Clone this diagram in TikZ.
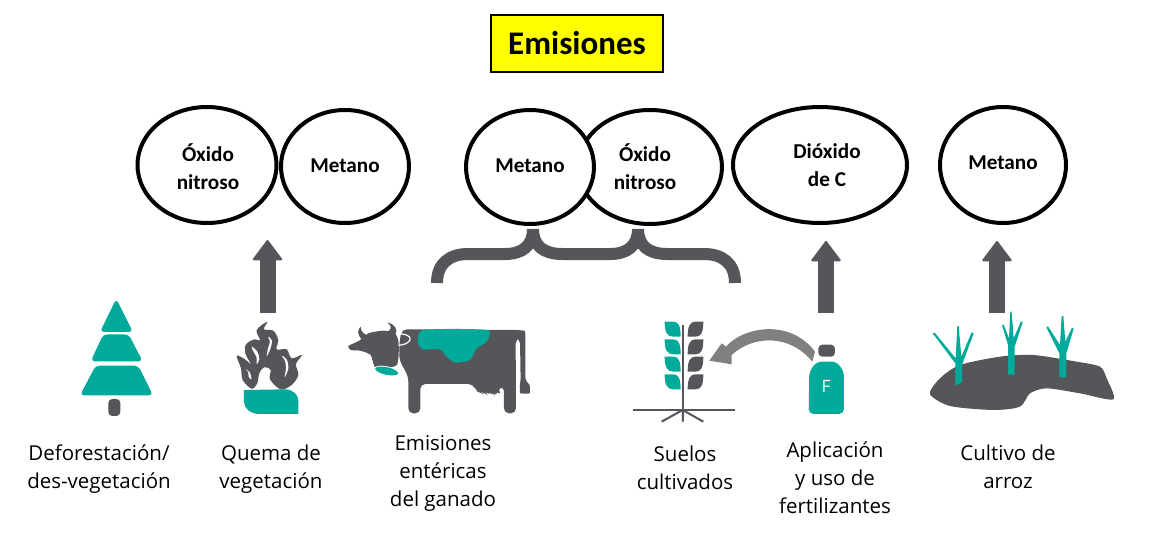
\documentclass[tikz,border=0pt]{standalone}
\usepackage{fontspec}
\setmainfont{Open Sans}
\newfontfamily\boldfont[BoldFont=Carlito Bold]{Carlito}
\usetikzlibrary{arrows.meta}
\usetikzlibrary{shapes.geometric}
\definecolor{teal1}{RGB}{0,170,155}
\definecolor{dark1}{RGB}{85,85,90}
\definecolor{mid1}{RGB}{128,128,128}
\definecolor{yellow1}{RGB}{255,255,0}
\tikzset{
gas/.style={draw=black,fill=white,line width=4pt,ellipse,inner sep=0pt},
gastext/.style={font=\boldfont\bfseries\fontsize{21.2}{28}\selectfont,align=center,inner sep=0pt},
caption/.style={font=\fontsize{20.5}{28}\selectfont,align=center,inner sep=0pt},
uparrow/.style={draw=dark1,line width=16pt,-{Triangle[width=31pt,length=21pt,line width=2pt,round]}},
icon/.style={x=0.3333pt,y=-0.3333pt}
}
\begin{document}
\begin{tikzpicture}[x=1pt,y=-1pt]
\useasboundingbox (0,0) rectangle (1160,533);
\node[draw=black,fill=yellow1,line width=1.2pt,minimum width=172pt,minimum height=57pt,inner sep=0pt,font=\boldfont\bfseries\fontsize{33}{36}\selectfont] (title) at (577,43.5) {Emisiones};

\node[gas,minimum width=139pt,minimum height=116pt] (oxa) at (207,165) {};
\node[gas,minimum width=128pt,minimum height=113pt] (meta) at (345,166.5) {};
\node[gas,minimum width=144pt,minimum height=114pt] (oxb) at (650,167) {};
\node[gas,minimum width=128pt,minimum height=114pt] (metb) at (530,167) {};
\node[gas,minimum width=174pt,minimum height=116pt] (diox) at (820,165) {};
\node[gas,minimum width=126pt,minimum height=116pt] (metc) at (1003,165) {};

\node[gastext] (oxatext) at (208,167) {Óxido\\nitroso};
\node[gastext] (metatext) at (345,166) {Metano};
\node[gastext] (metbtext) at (530,166) {Metano};
\node[gastext] (oxbtext) at (645,167) {Óxido\\nitroso};
\node[gastext] (dioxtext) at (827,165) {Dióxido\\de C};
\node[gastext] (metctext) at (1003,163) {Metano};

\coordinate (arra) at (267.5,313);
\coordinate (arrb) at (267.5,240);
\coordinate (arrc) at (826,313);
\coordinate (arrd) at (826,241);
\coordinate (arre) at (997,313);
\coordinate (arrf) at (997,241);
\draw[uparrow] (arra) -- (arrb);
\draw[uparrow] (arrc) -- (arrd);
\draw[uparrow] (arre) -- (arrf);

\draw[dark1,line width=12pt] (437,283) .. controls (437,263) and (450,254) .. (468,254) -- (505,254) .. controls (522,254) and (533,246) .. (533,229);
\draw[dark1,line width=12pt] (533,229) .. controls (533,246) and (544,254) .. (562,254) -- (610,254) .. controls (627,254) and (638,246) .. (638,229);
\draw[dark1,line width=12pt] (638,229) .. controls (638,246) and (649,254) .. (667,254) -- (704,254) .. controls (722,254) and (735,263) .. (735,283);

% tree
\begin{scope}[shift={(60,290)},icon]
\fill[teal1,rounded corners=4pt] (169,26) -- (219,126) -- (120,126) -- cycle;
\fill[teal1,rounded corners=4pt] (130,133) -- (206,133) -- (248,214) -- (92,214) -- cycle;
\fill[teal1,rounded corners=4pt] (107,227) -- (235,227) -- (279,316) -- (60,316) -- cycle;
\fill[dark1,rounded corners=4pt] (145,327) rectangle (181,378);
\end{scope}

% flames
\begin{scope}[shift={(60,290)},icon]
\fill[dark1] plot[smooth cycle,tension=0.55] coordinates {(575,296) (548,270) (543,235) (530,197) (555,208) (572,222) (556,190) (558,163) (583,148) (600,150) (590,120) (622,95) (612,118) (640,122) (655,150) (650,178) (680,178) (695,205) (726,195) (708,222) (715,255) (695,285) (662,298) (630,268) (632,240) (612,232) (598,250) (592,280)};
\fill[white] plot[smooth cycle,tension=0.55] coordinates {(575,170) (592,185) (598,208) (590,222) (590,202) (582,188)};
\fill[white] plot[smooth cycle,tension=0.55] coordinates {(624,140) (636,152) (630,180) (620,198) (625,172) (630,155)};
\fill[white] plot[smooth cycle,tension=0.55] coordinates {(666,198) (680,208) (685,235) (674,262) (678,235) (675,212)};
\fill[white] plot[smooth cycle,tension=0.55] coordinates {(558,238) (570,248) (574,268) (566,260) (565,247)};
\fill[teal1] (552,300) -- (680,298) .. controls (702,302) and (715,315) .. (715,332) -- (715,372) -- (595,372) .. controls (570,370) and (552,355) .. (552,335) -- cycle;
\end{scope}

% cow
\begin{scope}[shift={(340,310)},icon]
\fill[dark1] (68,90) .. controls (50,75) and (52,60) .. (62,50) .. controls (62,65) and (72,72) .. (82,76) -- cycle;
\fill[dark1] (135,68) .. controls (155,62) and (158,50) .. (143,38) .. controls (165,42) and (176,60) .. (165,75) -- cycle;
\fill[dark1] plot[smooth cycle,tension=0.4] coordinates {(25,108) (58,92) (85,70) (130,62) (165,70) (176,100) (170,165) (108,175) (92,135) (60,122) (32,120)};
\fill[dark1,rounded corners=5pt] (185,58) -- (540,60) .. controls (552,62) and (556,70) .. (556,85) -- (556,215) .. controls (570,225) and (570,250) .. (555,252) .. controls (540,250) and (540,225) .. (542,215) -- (540,85) -- (527,85) -- (528,310) -- (492,310) -- (492,228) .. controls (480,235) and (475,245) .. (470,240) -- (465,260) -- (460,243) -- (445,258) -- (435,243) -- (420,255) -- (405,235) -- (400,222) -- (241,222) -- (241,310) -- (205,310) -- (205,200) -- (178,150) -- (178,100) -- cycle;
\fill[teal1,draw=white,line width=0.8pt,rotate around={-12:(140,183)}] (140,183) ellipse (37 and 13);
\draw[white,line width=1.2pt] (172,72) .. controls (195,70) and (215,78) .. (210,90) .. controls (205,100) and (190,105) .. (176,106);
\fill[teal1] plot[smooth cycle,tension=0.4] coordinates {(250,60) (440,60) (440,95) (410,115) (390,150) (345,158) (315,135) (300,118) (248,118) (235,100)};
\end{scope}

% plant and bottle
\begin{scope}[shift={(620,310)},icon]
\fill[dark1] (186,45) rectangle (193,300);
\fill[dark1] (40,297) rectangle (346,304);
\draw[dark1,line width=2pt] (188,300) -- (125,335) (188,300) -- (250,335) (189,300) -- (189,335);
\foreach \leafy in {35,88,140,193} {
\fill[teal1] (134,\leafy) -- (160,\leafy) .. controls (175,\leafy) and (182,\leafy+12) .. (182,\leafy+45) -- (160,\leafy+45) .. controls (142,\leafy+45) and (134,\leafy+33) .. (134,\leafy) -- cycle;
\fill[dark1] (250,\leafy) -- (226,\leafy) .. controls (211,\leafy) and (203,\leafy+12) .. (203,\leafy+45) -- (227,\leafy+45) .. controls (243,\leafy+45) and (250,\leafy+33) .. (250,\leafy) -- cycle;
}
\fill[mid1] (268,152) -- (305,100) -- (318,110) .. controls (370,50) and (510,25) .. (585,125) -- (577,155) .. controls (510,72) and (400,75) .. (335,135) -- (335,163) -- cycle;
\fill[dark1,rounded corners=4pt] (595,140) -- (595,104) -- (645,104) -- (645,140) -- cycle;
\fill[teal1,rounded corners=5pt] (590,155) -- (650,155) -- (672,185) -- (672,312) -- (566,312) -- (568,185) -- cycle;
\node[text=white,font=\fontsize{17}{17}\selectfont,inner sep=0pt] (fert) at (618,230) {F};
\end{scope}

% rice field
\begin{scope}[shift={(920,300)},icon]
\fill[dark1] plot[smooth cycle,tension=0.45] coordinates {(30,282) (60,235) (120,195) (240,170) (340,165) (470,185) (540,200) (560,235) (580,298) (480,280) (380,265) (330,280) (300,320) (220,330) (90,318)};
\fill[teal1] (106,258) -- (106,190) -- (38,100) -- (44,98) -- (107,175) -- (112,78) -- (116,78) -- (124,170) -- (155,97) -- (161,100) -- (126,195) -- (127,245) -- cycle;
\fill[teal1] (264,224) -- (264,135) -- (246,75) -- (251,74) -- (267,115) -- (271,35) -- (275,35) -- (281,115) -- (303,64) -- (308,67) -- (284,140) -- (284,224) -- cycle;
\fill[teal1] (418,232) -- (418,160) -- (379,82) -- (384,79) -- (420,135) -- (425,48) -- (430,48) -- (436,125) -- (456,83) -- (461,86) -- (439,160) -- (439,232) -- cycle;
\end{scope}

\node[caption] (defo) at (99,469.5) {Deforestación/\\des-vegetación};
\node[caption] (quema) at (271,469) {Quema de\\vegetación};
\node[caption] (ente) at (443,473.5) {Emisiones\\entéricas\\del ganado};
\node[caption] (suelo) at (685,468) {Suelos\\cultivados};
\node[caption] (aplic) at (835,478) {Aplicación\\y uso de\\fertilizantes};
\node[caption] (arroz) at (1008,467) {Cultivo de\\arroz};
\end{tikzpicture}
\end{document}
